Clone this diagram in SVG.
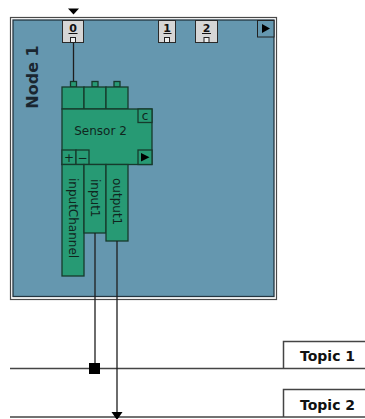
<svg xmlns="http://www.w3.org/2000/svg" width="365" height="419" viewBox="0 0 365 419">
<defs>
<style>
.port{fill:#d6d6d6;stroke:#2a2a2a;stroke-width:1}
.pnum{font-family:"DejaVu Sans",sans-serif;font-weight:bold;font-size:11px;fill:#111;text-anchor:middle}
.g{fill:#279a74;stroke:#163a2c;stroke-width:1.3}
.gt{font-family:"DejaVu Sans",sans-serif;font-size:12px;fill:#10261e}
.wire{stroke:#1e1e1e;stroke-width:1.3;fill:none}
.topic{stroke:#444;stroke-width:1.5;fill:none}
.tt{font-family:"DejaVu Sans",sans-serif;font-weight:bold;font-size:14px;fill:#111}
</style>
</defs>
<rect width="365" height="419" fill="#fff"/>
<g id="node1">
<rect x="10.5" y="17.5" width="266" height="282" fill="#fff" stroke="#4a4a4a" stroke-width="1.2"/>
<rect x="13" y="20" width="261" height="276.5" fill="#6597af" stroke="#233540" stroke-width="1.3"/>
<text transform="translate(38,77) rotate(-90)" text-anchor="middle" font-family="DejaVu Sans,sans-serif" font-weight="bold" font-size="16" fill="#1a2630">Node 1</text>
<g id="port0">
<rect class="port" x="62.5" y="20.5" width="21" height="22"/>
<text class="pnum" x="73" y="32">0</text>
<line x1="68.5" y1="33.5" x2="77.5" y2="33.5" stroke="#111" stroke-width="1"/>
<rect x="70.5" y="37.5" width="5" height="5" fill="#eee" stroke="#222" stroke-width="1"/>
</g>
<g id="port1">
<rect class="port" x="158.5" y="20.5" width="17" height="22"/>
<text class="pnum" x="167" y="32">1</text>
<line x1="163.5" y1="33.5" x2="171.5" y2="33.5" stroke="#111" stroke-width="1"/>
<rect x="164.5" y="37.5" width="5" height="5" fill="#eee" stroke="#222" stroke-width="1"/>
</g>
<g id="port2">
<rect class="port" x="195.5" y="20.5" width="22" height="22"/>
<text class="pnum" x="206.5" y="32">2</text>
<line x1="202" y1="33.5" x2="211" y2="33.5" stroke="#111" stroke-width="1"/>
<rect x="204" y="37.5" width="5" height="5" fill="#eee" stroke="#222" stroke-width="1"/>
</g>
<g id="nodeplay">
<rect x="257.5" y="20.5" width="16.5" height="16.5" fill="#6597af" stroke="#222" stroke-width="1"/>
<polygon points="262,24 270,28.5 262,33" fill="#000"/>
</g>
</g>
<g id="sensor2">
<rect class="g" x="70.5" y="81.5" width="6" height="5.5"/>
<rect class="g" x="92" y="81.5" width="6" height="5.5"/>
<rect class="g" x="114" y="81.5" width="6" height="5.5"/>
<rect class="g" x="62" y="87" width="22" height="22"/>
<rect class="g" x="84" y="87" width="22" height="22"/>
<rect class="g" x="106" y="87" width="22" height="22"/>
<rect class="g" x="62" y="109" width="90" height="55.5"/>
<rect class="g" x="138" y="109" width="14" height="13.5"/>
<text class="gt" x="145" y="120" text-anchor="middle" font-size="11">c</text>
<text class="gt" x="100.5" y="135" text-anchor="middle">Sensor 2</text>
<rect class="g" x="62" y="150" width="14" height="14.5"/>
<text class="gt" x="69" y="161.5" text-anchor="middle" font-size="12">+</text>
<rect class="g" x="76" y="150" width="13" height="14.5"/>
<text class="gt" x="82.5" y="161.5" text-anchor="middle" font-size="12">−</text>
<rect class="g" x="138" y="150" width="14" height="14.5"/>
<polygon points="141,153 149.5,157.3 141,161.5" fill="#000"/>
<rect class="g" x="62" y="164.5" width="22" height="111.5"/>
<text class="gt" transform="translate(69,178) rotate(90)">inputChannel</text>
<rect class="g" x="84" y="164.5" width="22" height="68.5"/>
<text class="gt" transform="translate(91,179) rotate(90)">input1</text>
<rect class="g" x="106" y="164.5" width="22" height="76.5"/>
<text class="gt" transform="translate(113,178) rotate(90)">output1</text>
</g>
<g id="topic1">
<path class="topic" d="M10,368.5 H365 M283.5,368.5 V341.5 H365"/>
<text class="tt" x="300" y="361">Topic 1</text>
</g>
<g id="topic2">
<path class="topic" d="M10,417 H365 M283.5,417 V389.5 H365"/>
<text class="tt" x="300" y="410">Topic 2</text>
</g>
<g id="connectors">
<polygon points="68,8.5 79,8.5 73.5,14.5" fill="#000"/>
<line class="wire" x1="73.5" y1="43" x2="73.5" y2="81.5"/>
<line class="wire" x1="95" y1="233" x2="95" y2="368"/>
<rect x="89" y="363" width="11" height="11" fill="#000"/>
<line class="wire" x1="117" y1="241" x2="117" y2="413"/>
<polygon points="111.5,412 122.5,412 117,420" fill="#000"/>
</g>
</svg>
